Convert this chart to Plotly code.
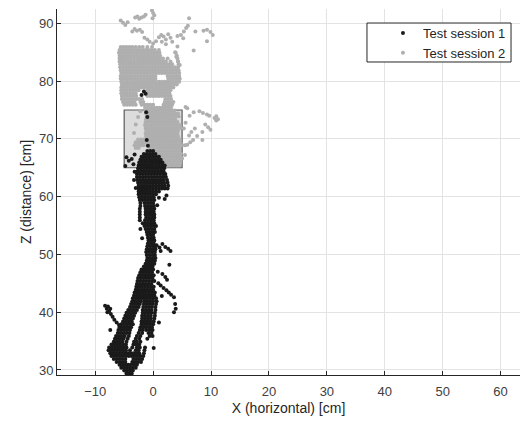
import plotly.graph_objects as go

# ---------------- data ----------------
x_ticks = [-10, 0, 10, 20, 30, 40, 50, 60]
y_ticks = [30, 40, 50, 60, 70, 80, 90]
series_names = ["Test session 1", "Test session 2"]
target_box = [-5, 5, 65, 75]  # x0, x1, y0, y1

# Test session 1 (black): dense rows (z, list of x) + loose points
s1_rows = [
    (29.4, [-4.6, -4.1, -3.7]),
    (29.9, [-5.0, -4.5, -4.0, -3.5]),
    (30.4, [-5.5, -5.0, -4.5, -4.0, -3.5, -3.0]),
    (30.9, [-5.8, -5.3, -4.8, -4.3, -3.8, -3.3, -2.8]),
    (31.4, [-6.3, -5.8, -5.3, -4.8, -3.6, -3.1, -2.6, -2.1]),
    (31.9, [-6.8, -6.3, -5.8, -5.3, -4.8, -3.4, -2.9, -2.4, -1.9]),
    (32.4, [-7.2, -6.7, -6.2, -5.7, -5.2, -4.7, -4.2, -3.7, -3.2, -2.7, -2.2, -1.7]),
    (32.9, [-7.4, -6.9, -6.4, -5.9, -5.4, -4.9, -4.4, -3.9, -3.4, -2.9, -2.4, -1.6]),
    (33.4, [-7.7, -7.2, -6.7, -6.2, -5.7, -5.2, -4.7, -4.0, -3.0, -2.5, -1.5]),
    (33.9, [-7.6, -7.1, -6.6, -6.1, -5.6, -5.1, -4.6, -3.6, -2.8, -2.3, -1.4]),
    (34.4, [-7.2, -6.7, -6.2, -5.7, -5.2, -4.7, -3.4, -2.9, -2.4]),
    (34.9, [-6.8, -6.3, -5.8, -5.3, -4.6, -3.3, -2.8, -2.2]),
    (35.4, [-6.6, -6.1, -5.6, -5.1, -4.4, -3.0, -2.4, -1.0]),
    (35.9, [-6.4, -5.9, -5.4, -4.9, -4.2, -2.8, -2.2, -0.6, -0.1]),
    (36.4, [-6.1, -5.6, -5.1, -4.6, -4.1, -2.5, -1.9, -0.8, -0.3]),
    (36.9, [-6.0, -5.5, -5.0, -4.5, -4.0, -2.3, -1.8, -1.2, -0.6, -0.1]),
    (37.4, [-5.8, -5.3, -4.8, -4.3, -3.8, -2.2, -1.7, -1.2, -0.7, -0.2]),
    (37.9, [-5.5, -5.0, -4.5, -4.0, -3.5, -2.0, -1.5, -1.0, -0.5, 0.0]),
    (38.4, [-5.2, -4.7, -4.2, -3.7, -2.0, -1.5, -1.0, -0.5, 0.1]),
    (38.9, [-5.0, -4.5, -4.0, -3.5, -1.9, -1.4, -0.9, -0.4, 0.2]),
    (39.4, [-4.8, -4.3, -3.8, -3.3, -1.9, -1.4, -0.9, -0.4, 0.3]),
    (39.9, [-4.6, -4.1, -3.6, -3.1, -1.8, -1.3, -0.8, -0.3, 0.3]),
    (40.4, [-4.3, -3.8, -3.3, -2.8, -1.8, -1.3, -0.8, -0.3, 0.4]),
    (40.9, [-4.0, -3.5, -3.0, -2.5, -1.7, -1.2, -0.7, -0.2, 0.4]),
    (41.4, [-3.8, -3.3, -2.8, -2.3, -1.6, -1.1, -0.6, -0.1, 0.5]),
    (41.9, [-3.6, -3.1, -2.6, -2.1, -1.5, -1.0, -0.5, 0.0, 0.6]),
    (42.4, [-3.5, -3.0, -2.5, -2.0, -1.5, -1.0, -0.5, 0.0, 0.5]),
    (42.9, [-3.3, -2.8, -2.3, -1.8, -1.3, -0.8, -0.3, 0.2]),
    (43.4, [-3.2, -2.7, -2.2, -1.7, -1.2, -0.7, -0.2, 0.3]),
    (43.9, [-3.0, -2.5, -2.0, -1.5, -1.0, -0.5, 0.0]),
    (44.4, [-2.9, -2.4, -1.9, -1.4, -0.9, -0.4, 0.1]),
    (44.9, [-2.8, -2.3, -1.8, -1.3, -0.8, -0.3]),
    (45.4, [-2.7, -2.2, -1.7, -1.2, -0.7, -0.2, 0.2]),
    (45.9, [-2.6, -2.1, -1.6, -1.1, -0.6, -0.1]),
    (46.4, [-2.4, -1.9, -1.4, -0.9, -0.4, 0.1]),
    (46.9, [-2.2, -1.7, -1.2, -0.7, -0.2]),
    (47.4, [-2.0, -1.5, -1.0, -0.5, 0.0]),
    (47.9, [-1.6, -1.1, -0.6, -0.1]),
    (48.4, [-1.3, -0.8, -0.3, 0.2]),
    (48.9, [-1.1, -0.6, -0.1, 0.3]),
    (49.4, [-1.0, -0.5, 0.0, 0.4]),
    (49.9, [-1.1, -0.6, -0.1, 0.3]),
    (50.4, [-1.2, -0.7, -0.2, 0.3]),
    (50.9, [-1.1, -0.6, -0.1, 0.4]),
    (51.4, [-1.0, -0.5, 0.0, 0.4]),
    (51.9, [-0.9, -0.4, 0.1]),
    (52.4, [-0.8, -0.3, 0.2]),
    (52.9, [-0.9, -0.4, 0.1]),
    (53.4, [-1.0, -0.5, 0.0]),
    (53.9, [-1.1, -0.6, -0.1, 0.3]),
    (54.4, [-1.3, -0.8, -0.3, 0.2]),
    (54.9, [-1.5, -1.0, -0.5, 0.0, 0.5]),
    (55.4, [-1.8, -1.3, -0.8, -0.3, 0.2]),
    (55.9, [-2.3, -1.4, -0.9, -0.4, 0.1]),
    (56.4, [-2.3, -1.2, -0.7, -0.2, 0.2]),
    (56.9, [-2.3, -1.3, -0.8, -0.3, 0.2]),
    (57.4, [-2.3, -1.3, -0.8, -0.3, 0.1]),
    (57.9, [-2.3, -1.3, -0.8, -0.3, 0.2]),
    (58.4, [-2.2, -1.4, -0.9, -0.4, 0.1]),
    (58.9, [-2.2, -1.5, -1.0, -0.5, 0.0]),
    (59.4, [-2.3, -1.8, -1.3, -0.8, -0.3, 0.2]),
    (59.9, [-2.4, -1.9, -1.4, -0.9, -0.4, 0.1]),
    (60.4, [-2.5, -2.0, -1.5, -1.0, -0.5, 0.0, 0.5]),
    (60.9, [-2.5, -2.0, -1.5, -1.0, -0.5, 0.0, 0.5, 1.0]),
    (61.4, [-2.5, -2.0, -1.5, -1.0, -0.5, 0.0, 0.5, 1.0, 1.5, 2.0, 2.5]),
    (61.9, [-2.5, -2.0, -1.5, -1.0, -0.5, 0.0, 0.5, 1.0, 1.5, 2.0, 2.6]),
    (62.4, [-2.6, -2.1, -1.6, -1.1, -0.6, -0.1, 0.4, 0.9, 1.4, 1.9, 2.5]),
    (62.9, [-2.7, -2.2, -1.7, -1.2, -0.7, -0.2, 0.3, 0.8, 1.3, 1.8, 2.4]),
    (63.4, [-2.8, -2.3, -1.8, -1.3, -0.8, -0.3, 0.2, 0.7, 1.2, 1.7, 2.2]),
    (63.9, [-2.8, -2.3, -1.8, -1.3, -0.8, -0.3, 0.2, 0.7, 1.2, 1.7, 2.1]),
    (64.4, [-2.7, -2.2, -1.7, -1.2, -0.7, -0.2, 0.3, 0.8, 1.3, 1.8]),
    (64.9, [-2.6, -2.1, -1.6, -1.1, -0.6, -0.1, 0.4, 0.9, 1.4, 1.9]),
    (65.4, [-2.5, -2.0, -1.5, -1.0, -0.5, 0.0, 0.5, 1.0, 1.5, 2.0]),
    (65.9, [-2.4, -1.9, -1.4, -0.9, -0.4, 0.1, 0.6, 1.1, 1.6]),
    (66.4, [-2.2, -1.7, -1.2, -0.7, -0.2, 0.3, 0.8, 1.3]),
    (66.9, [-2.0, -1.5, -1.0, -0.5, 0.0, 0.5, 1.0]),
    (67.4, [-1.6, -1.1, -0.6, -0.1, 0.4]),
    (67.9, [-1.0, -0.5, 0.0]),
]
s1_loose = [
    (-4.6, 66.8), (-4.2, 66.2), (-3.7, 66.5), (-3.4, 65.6), (-4.8, 65.3), (-3.2, 67.3),
    (-2.0, 77.6), (-1.6, 78.2), (-1.3, 77.8), (-1.2, 74.6), (-1.0, 73.8), (-1.1, 69.8), (-0.9, 68.8),
    (0.6, 51.6), (1.1, 51.2), (1.6, 51.8), (2.1, 51.3), (2.6, 51.0), (3.0, 50.6), (1.3, 50.6),
    (2.8, 48.2), (1.6, 46.6), (2.1, 46.1), (2.4, 45.6), (1.3, 44.6), (1.8, 44.2), (2.3, 43.8),
    (2.7, 43.4), (3.1, 43.0), (1.5, 42.8), (3.6, 42.6), (3.8, 41.4), (3.9, 40.6), (3.6, 40.0),
    (0.1, 33.8), (1.0, 38.2), (0.8, 47.0), (0.9, 45.0),
    (-8.3, 41.1), (-8.0, 40.6), (-7.6, 40.2), (-7.3, 39.7), (-7.0, 39.2), (-6.7, 38.7),
    (-6.3, 38.2), (-5.9, 37.8), (-7.8, 41.0), (-7.4, 40.6), (-7.9, 40.0), (-7.4, 36.9),
    (-3.3, 62.9), (-3.0, 61.5), (-3.2, 64.3), (2.3, 60.2), (2.0, 59.6), (1.0, 59.8), (0.7, 58.5),
    (-2.2, 54.4), (-1.9, 52.8),
]

# Test session 2 (grey): dense rows (z, list of x) + loose points
s2_rows = [
    (65.4, [2.0, 2.5, 3.0, 3.5, 4.0, 4.5]),
    (65.9, [1.8, 2.3, 2.8, 3.3, 3.8, 4.3, 4.7]),
    (66.4, [1.6, 2.1, 2.6, 3.1, 3.6, 4.1, 4.6]),
    (66.9, [1.2, 1.7, 2.2, 2.7, 3.2, 3.7, 4.2, 4.7]),
    (67.4, [0.8, 1.3, 1.8, 2.3, 2.8, 3.3, 3.8, 4.3, 4.8]),
    (67.9, [0.5, 1.0, 1.5, 2.0, 2.5, 3.0, 3.5, 4.0, 4.5]),
    (68.4, [-3.0, -2.5, -0.5, 0.0, 0.5, 1.0, 1.5, 2.0, 2.5, 3.0, 3.5, 4.0, 4.5]),
    (68.9, [-3.2, -2.7, -2.2, -1.7, -1.0, -0.5, 0.0, 0.5, 1.0, 1.5, 2.0, 2.5, 3.0, 3.5, 4.0, 4.5, 5.0]),
    (69.4, [-3.0, -2.5, -2.0, -1.5, -1.0, -0.5, 0.0, 0.5, 1.0, 1.5, 2.0, 2.5, 3.0, 3.5, 4.0, 4.6]),
    (69.9, [-2.6, -2.1, -1.6, -0.9, -0.4, 0.1, 0.6, 1.1, 1.6, 2.1, 2.6, 3.1, 3.6, 4.1, 4.6]),
    (70.4, [-1.2, -0.7, -0.2, 0.3, 0.8, 1.3, 1.8, 2.3, 2.8, 3.3, 3.8, 4.3]),
    (70.9, [-1.3, -0.8, -0.3, 0.2, 0.7, 1.2, 1.7, 2.2, 2.7, 3.2, 3.7, 4.2]),
    (71.4, [-1.2, -0.7, -0.2, 0.3, 0.8, 1.3, 1.8, 2.3, 2.8, 3.3, 3.8, 4.3]),
    (71.9, [-1.3, -0.8, -0.3, 0.2, 0.7, 1.2, 1.7, 2.2, 2.7, 3.2, 3.7, 4.2, 4.7]),
    (72.4, [-1.4, -0.9, -0.4, 0.1, 0.6, 1.1, 1.6, 2.1, 2.6, 3.1, 3.6, 4.1, 4.6]),
    (72.9, [-1.3, -0.8, -0.3, 0.2, 0.7, 1.2, 1.7, 2.2, 2.7, 3.2, 3.7, 4.2]),
    (73.4, [-1.2, -0.7, -0.2, 0.3, 0.8, 1.3, 1.8, 2.3, 2.8, 3.3, 3.8]),
    (73.9, [-1.1, -0.6, -0.1, 0.4, 0.9, 1.4, 1.9, 2.4, 2.9, 3.4, 3.9, 4.4]),
    (74.4, [-1.2, -0.7, -0.2, 0.3, 0.8, 1.3, 1.8, 2.3, 2.8, 3.3, 3.8, 4.3]),
    (74.9, [-1.3, -0.8, -0.3, 0.2, 0.7, 1.2, 1.7, 2.2, 2.7, 3.2, 3.7]),
    (75.4, [-1.4, -0.9, -0.4, 0.1, 0.6, 1.1, 1.6, 2.1, 2.6, 3.1]),
    (75.9, [-5.0, -4.5, -4.0, -3.5, -3.0, -2.0, -1.5, -1.0, -0.5, 0.0, 1.8, 2.3, 2.8, 3.3]),
    (76.4, [-5.2, -4.7, -4.2, -3.7, -3.2, -2.2, -1.7, 2.0, 2.5, 3.0, 3.5]),
    (76.9, [-5.4, -4.9, -4.4, -3.9, -3.4, -2.9, -2.4, -1.9, 2.1, 2.6, 3.1]),
    (77.4, [-5.4, -4.9, -4.4, -3.9, -3.4, -2.9, -1.0, -0.5, 0.0, 0.5, 1.0, 1.5, 2.0, 2.5, 3.0]),
    (77.9, [-5.5, -5.0, -4.5, -4.0, -3.5, -3.0, -1.2, -0.7, -0.2, 0.3, 0.8, 1.3, 1.8, 2.3, 2.8]),
    (78.4, [-5.5, -5.0, -4.5, -4.0, -3.5, -3.0, -2.5, -1.0, -0.5, 0.0, 0.5, 1.0, 1.5, 2.0, 2.5, 3.0]),
    (78.9, [-5.5, -5.0, -4.5, -4.0, -3.5, -3.0, -2.5, -2.0, -1.5, -1.0, -0.5, 0.0, 0.5, 1.0, 1.5, 2.0, 2.5, 3.0, 3.5]),
    (79.4, [-5.4, -4.9, -4.4, -3.9, -3.4, -2.9, -2.4, -1.9, -1.4, -0.9, -0.4, 0.1, 0.6, 1.1, 1.6, 2.1, 2.6, 3.1, 3.6, 4.1]),
    (79.9, [-5.5, -5.0, -4.5, -4.0, -3.5, -3.0, -2.5, -2.0, -1.5, -1.0, -0.5, 0.0, 0.5, 1.0, 1.5, 2.0, 2.5, 3.0, 3.5, 4.0, 4.5]),
    (80.4, [-5.6, -5.1, -4.6, -4.1, -3.6, -3.1, -2.6, -2.1, -1.6, -1.1, -0.6, -0.1, 0.4, 2.6, 3.1, 3.6, 4.1, 4.6]),
    (80.9, [-5.6, -5.1, -4.6, -4.1, -3.6, -3.1, -2.6, -2.1, -1.6, -1.1, -0.6, -0.1, 0.4, 2.5, 3.0, 3.5, 4.0, 4.5]),
    (81.4, [-5.5, -5.0, -4.5, -4.0, -3.5, -3.0, -2.5, -2.0, -1.5, -1.0, -0.5, 0.0, 0.5, 1.0, 1.5, 2.0, 2.5, 3.0, 3.5, 4.0, 4.5]),
    (81.9, [-5.6, -5.1, -4.6, -4.1, -3.6, -3.1, -2.6, -2.1, -1.6, -1.1, -0.6, -0.1, 0.4, 0.9, 1.4, 1.9, 2.4, 2.9, 3.4, 3.9, 4.4]),
    (82.4, [-5.7, -5.2, -4.7, -4.2, -3.7, -3.2, -2.7, -2.2, -1.7, -1.2, -0.7, -0.2, 0.3, 0.8, 1.3, 1.8, 2.3, 2.8, 3.3, 3.8, 4.3]),
    (82.9, [-5.7, -5.2, -4.7, -4.2, -3.7, -3.2, -2.7, -2.2, -1.7, -1.2, -0.7, -0.2, 0.3, 0.8, 1.3, 1.8, 2.3, 2.8, 3.3, 4.4]),
    (83.4, [-5.8, -5.3, -4.8, -4.3, -3.8, -3.3, -2.8, -2.3, -1.8, -1.3, -0.8, -0.3, 0.2, 0.7, 1.2, 1.7, 2.2, 3.0, 4.3]),
    (83.9, [-5.8, -5.3, -4.8, -4.3, -3.8, -3.3, -2.8, -2.3, -1.8, -1.3, -0.8, -0.3, 0.2, 0.7, 1.2, 1.7, 2.5, 4.2]),
    (84.4, [-5.8, -5.3, -4.8, -4.3, -3.8, -3.3, -2.8, -2.3, -1.8, -1.3, -0.8, -0.3, 0.2, 0.7, 1.2, 4.1]),
    (84.9, [-5.9, -5.4, -4.9, -4.4, -3.9, -3.4, -2.9, -2.4, -1.9, -1.4, -0.9, -0.4, 0.1, 0.6, 1.1, 3.9]),
    (85.4, [-5.8, -5.3, -4.8, -4.3, -3.8, -3.3, -2.8, -2.3, -1.8, -1.3, -0.8, -0.3, 0.3, 1.0]),
    (85.9, [-5.6, -5.1, -4.6, -4.1, -3.6, -3.0, -2.4, -1.8, -1.0, -0.2]),
]
s2_loose = [
    (5.6, 75.5), (5.9, 75.3), (6.3, 74.0), (7.0, 74.6), (8.0, 74.8), (8.6, 74.5), (9.3, 74.2),
    (9.7, 74.0), (10.6, 73.6), (10.9, 73.9), (11.2, 73.4), (10.9, 73.2), (9.0, 72.5), (9.5, 72.0),
    (9.9, 71.6), (8.5, 71.2), (7.6, 70.5), (8.5, 69.8), (6.9, 69.8), (6.4, 69.4), (5.9, 69.0),
    (5.5, 68.9), (6.2, 70.6), (5.3, 71.8), (5.6, 72.8), (6.6, 71.2), (7.2, 71.8), (5.5, 67.2),
    (5.0, 66.6),
    (-5.6, 90.5), (-5.2, 90.1), (-4.8, 89.7), (-4.4, 90.2), (-3.1, 91.0), (-2.7, 91.2),
    (-2.4, 90.8), (-2.0, 91.0), (-1.6, 91.2), (-1.3, 91.5), (-0.2, 92.2), (0.0, 91.8),
    (0.2, 91.4), (-0.1, 90.9), (-3.6, 88.6), (-3.2, 89.0), (-2.8, 88.7), (-2.3, 88.9),
    (-1.9, 88.5), (-1.5, 87.5), (-1.0, 87.2), (-0.6, 86.8), (0.0, 86.5), (0.5, 86.9),
    (1.0, 87.6), (1.4, 88.0), (1.8, 87.7), (2.2, 87.2), (2.6, 88.1), (3.0, 87.5), (3.3, 86.8),
    (4.2, 87.8), (4.8, 88.0), (5.3, 88.6), (5.7, 89.2), (6.0, 89.6), (6.2, 90.9), (5.2, 87.4),
    (7.3, 88.6), (8.7, 88.7), (9.3, 88.9), (9.9, 88.5), (10.3, 88.0), (9.3, 86.9), (7.0, 85.3),
    (4.2, 86.0), (3.8, 85.0), (4.0, 84.2), (4.3, 83.4), (4.6, 82.8), (1.5, 86.8), (2.2, 86.4),
    (-3.0, 72.5), (-2.6, 73.8), (-3.3, 71.0), (-2.2, 74.8),
]

# ---------------- build ----------------
def collect(rows, loose):
    xs, ys = [], []
    for z, xrow in rows:
        for x in xrow:
            xs.append(x)
            ys.append(z)
    for x, z in loose:
        xs.append(x)
        ys.append(z)
    return xs, ys

s1_x, s1_y = collect(s1_rows, s1_loose)
s2_x, s2_y = collect(s2_rows, s2_loose)

FONT = "Liberation Sans, Arial, sans-serif"
TXT = "#404040"
DARK = "#262626"

fig = go.Figure()
fig.add_trace(go.Scatter(
    x=s2_x, y=s2_y, mode="markers", name=series_names[1], legendrank=2,
    marker=dict(color="#afafaf", size=4, line=dict(width=0)),
))
fig.add_trace(go.Scatter(
    x=s1_x, y=s1_y, mode="markers", name=series_names[0], legendrank=1,
    marker=dict(color="#1a1a1a", size=4, line=dict(width=0)),
))

# target area
fig.add_shape(type="rect", xref="x", yref="y",
              x0=target_box[0], x1=target_box[1], y0=target_box[2], y1=target_box[3],
              fillcolor="#dcdcdc", line=dict(color="#5a5a5a", width=1.2), layer="between")
# legend frame (paper coordinates)
fig.add_shape(type="rect", xref="paper", yref="paper",
              x0=0.6695, x1=0.9806, y0=0.8552, y1=0.9617,
              fillcolor="white", line=dict(color=DARK, width=1), layer="above")

axis_common = dict(
    showgrid=True, gridcolor="#e3e3e3", gridwidth=1, zeroline=False,
    showline=True, linecolor=DARK, linewidth=1, mirror=False,
    ticks="inside", ticklen=4, tickcolor=DARK, automargin=False,
    tickfont=dict(family=FONT, size=13, color=TXT),
)
fig.update_xaxes(range=[-16.6, 63.35], tickvals=x_ticks, ticklabelstandoff=4,
                 title=dict(text="X (horizontal) [cm]", font=dict(family=FONT, size=14, color=DARK), standoff=5),
                 **axis_common)
fig.update_yaxes(range=[29.13, 92.48], tickvals=y_ticks,
                 title=dict(text="Z (distance) [cm]", font=dict(family=FONT, size=14, color=DARK), standoff=4),
                 **axis_common)

fig.update_layout(
    width=521, height=421,
    margin=dict(l=57, r=1, t=9, b=46, pad=0, autoexpand=False),
    paper_bgcolor="white", plot_bgcolor="white",
    showlegend=True,
    legend=dict(x=0.704, y=0.9754, xanchor="left", yanchor="top",
                bgcolor="rgba(0,0,0,0)", borderwidth=0,
                font=dict(family=FONT, size=13, color=DARK),
                itemsizing="trace"),
)

fig.write_html("out.html", config={"displayModeBar": False},
               post_script="document.body.style.margin='0px';")
